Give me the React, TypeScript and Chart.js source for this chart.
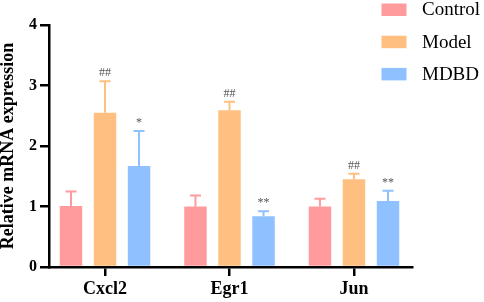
import React, { useEffect, useRef } from 'react';
import { Chart, registerables } from 'chart.js';

Chart.register(...registerables);

const categories = ['Cxcl2', 'Egr1', 'Jun'];
const groups = ['Control', 'Model', 'MDBD'];
const controlMean = [1.01, 1.0, 1.0];
const controlSD = [0.24, 0.18, 0.13];
const modelMean = [2.55, 2.59, 1.45];
const modelSD = [0.52, 0.14, 0.09];
const mdbdMean = [1.67, 0.84, 1.09];
const mdbdSD = [0.58, 0.08, 0.17];
const controlMarks = ['', '', ''];
const modelMarks = ['##', '##', '##'];
const mdbdMarks = ['*', '**', '**'];
const yTicks = [0, 1, 2, 3, 4];
const yTitle = 'Relative mRNA expression';

const groupColors = ['#FF9B9C', '#FFBF80', '#8FC0FF'];
const SERIF = '"Liberation Serif", "Times New Roman", serif';

const errorBarPlugin = {
  id: 'errorBars',
  afterDatasetsDraw(chart: any) {
    const ctx = chart.ctx;
    const yScale = chart.scales.y;
    chart.data.datasets.forEach((ds: any, i: number) => {
      const meta = chart.getDatasetMeta(i);
      meta.data.forEach((bar: any, j: number) => {
        const mean = ds.means[j];
        const sd = ds.sds[j];
        const top = yScale.getPixelForValue(mean + sd);
        const base = yScale.getPixelForValue(mean);
        ctx.save();
        ctx.strokeStyle = ds.backgroundColor;
        ctx.lineWidth = 2;
        ctx.beginPath();
        ctx.moveTo(bar.x, base);
        ctx.lineTo(bar.x, top);
        ctx.moveTo(bar.x - 5.5, top);
        ctx.lineTo(bar.x + 5.5, top);
        ctx.stroke();
        const mark = ds.marks[j];
        if (mark) {
          ctx.fillStyle = '#555555';
          ctx.font = `12px ${SERIF}`;
          ctx.textAlign = 'center';
          ctx.textBaseline = 'alphabetic';
          ctx.fillText(mark, bar.x, top - 5);
        }
        ctx.restore();
      });
    });
  },
};

const legendPlugin = {
  id: 'customLegend',
  afterDraw(chart: any) {
    const ctx = chart.ctx;
    ctx.save();
    chart.data.datasets.forEach((ds: any, i: number) => {
      const cy = 9.5 + i * 32.2;
      ctx.fillStyle = ds.backgroundColor;
      ctx.fillRect(381.5, cy - 6, 25, 12.5);
      ctx.fillStyle = '#000';
      ctx.font = `19px ${SERIF}`;
      ctx.textAlign = 'left';
      ctx.textBaseline = 'middle';
      ctx.fillText(ds.label, 422, cy + 1);
    });
    ctx.restore();
  },
};

export default function App() {
  const canvasRef = useRef<HTMLCanvasElement | null>(null);

  useEffect(() => {
    if (!canvasRef.current) return;
    const means = [controlMean, modelMean, mdbdMean];
    const sds = [controlSD, modelSD, mdbdSD];
    const marks = [controlMarks, modelMarks, mdbdMarks];
    const chart = new Chart(canvasRef.current, {
      type: 'bar',
      data: {
        datasets: groups.map((g, i) => ({
          label: g,
          data: categories.map((_, j) => ({ x: j, y: means[i][j] })),
          means: means[i],
          sds: sds[i],
          marks: marks[i],
          backgroundColor: groupColors[i],
          borderWidth: 0,
          barPercentage: 0.66,
          categoryPercentage: 0.82,
        })) as any,
      },
      options: {
        animation: false,
        responsive: false,
        devicePixelRatio: 1,
        layout: { padding: { top: 25, right: 72, bottom: 0, left: 0 } },
        plugins: {
          legend: { display: false },
          tooltip: { enabled: false },
        },
        scales: {
          x: {
            type: 'linear',
            offset: false,
            min: -0.45,
            max: 2.466,
            afterBuildTicks: (s: any) => {
              s.ticks = categories.map((_, i) => ({ value: i }));
            },
            ticks: {
              callback: (v: any) => categories[v] ?? '',
              font: { family: SERIF, size: 18, weight: 'bold' },
              color: '#000',
              padding: 3,
              maxRotation: 0,
              autoSkip: false,
            },
            grid: {
              offset: false,
              drawOnChartArea: false,
              drawTicks: true,
              tickLength: 9,
              color: '#000',
              lineWidth: 2.5,
            },
            border: { display: true, color: '#000', width: 2.5 },
            afterFit: (s: any) => {
              s.height = 35;
            },
          },
          y: {
            min: 0,
            max: 4,
            afterBuildTicks: (s: any) => {
              s.ticks = yTicks.map((v) => ({ value: v }));
            },
            ticks: {
              font: { family: SERIF, size: 16, weight: 'bold' },
              color: '#000',
              padding: 3,
            },
            grid: {
              drawOnChartArea: false,
              drawTicks: true,
              tickLength: 9,
              color: '#000',
              lineWidth: 2.5,
            },
            border: { display: true, color: '#000', width: 2.5 },
            title: {
              display: true,
              text: yTitle,
              color: '#000',
              font: { family: SERIF, size: 18, weight: 'bold' },
              padding: { top: -2, bottom: 0 },
            },
            afterFit: (s: any) => {
              s.width = 49;
            },
          },
        },
      } as any,
      plugins: [errorBarPlugin, legendPlugin],
    });
    return () => chart.destroy();
  }, []);

  return (
    <div style={{ position: 'fixed', left: 0, top: 0, width: 484, height: 302, background: '#fff' }}>
      <canvas ref={canvasRef} width={484} height={302} style={{ width: 484, height: 302 }} />
    </div>
  );
}
